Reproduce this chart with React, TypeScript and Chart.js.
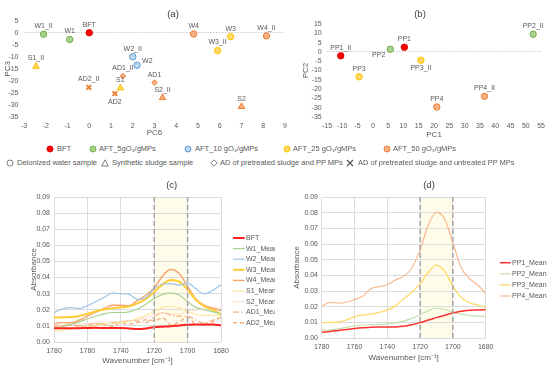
import React, { useEffect, useRef } from 'react';
import { Chart, registerables } from 'chart.js';
Chart.register(...registerables);

const FONT = '"Liberation Sans", Arial, sans-serif';
const TXT = '#595959';

// ---------- (a) PCA scores: PC6 vs PC3 ----------
const aLabels = ['BFT', 'W1_II', 'W1', 'W2_II', 'W2', 'W4', 'W3', 'W3_II', 'W4_II', 'S1_II', 'AD1_II', 'AD1', 'AD2_II', 'S1', 'AD2', 'S2_II', 'S2'];
const aPC6 = [0, -2.1, -0.9, 2.0, 2.2, 4.8, 6.5, 5.9, 8.15, -2.45, 1.55, 3.0, -0.02, 1.43, 1.18, 3.37, 7.0];
const aPC3 = [0, -0.6, -2.8, -10.0, -13.5, -0.5, -1.6, -7.4, -1.3, -14.0, -18.0, -20.7, -22.7, -23.0, -25.3, -27.0, -30.7];
const aDose = ['BFT', 'AFT5', 'AFT5', 'AFT10', 'AFT10', 'AFT50', 'AFT25', 'AFT25', 'AFT50', 'AFT25', 'AFT50', 'AFT50', 'AFT50', 'AFT25', 'AFT50', 'AFT50', 'AFT50'];
const aSample = ['water', 'water', 'water', 'water', 'water', 'water', 'water', 'water', 'water', 'sludge', 'ad', 'ad', 'adu', 'sludge', 'adu', 'sludge', 'sludge'];
const aLabelPos = ['above', 'above', 'above', 'above', 'right', 'above', 'above', 'above', 'above', 'above', 'above', 'above', 'above', 'above', 'below', 'above', 'above'];

// ---------- (b) PCA scores: PC1 vs PC2 ----------
const bLabels = ['PP2_II', 'PP1', 'PP2', 'PP1_II', 'PP3_II', 'PP3', 'PP4_II', 'PP4'];
const bPC1 = [52.4, 10.3, 5.7, -10.5, 15.7, -4.5, 36.5, 20.9];
const bPC2 = [9.5, 2.5, 1.4, -2.1, -4.5, -13.4, -23.9, -29.6];
const bDose = ['AFT5', 'BFT', 'AFT5', 'BFT', 'AFT25', 'AFT25', 'AFT50', 'AFT50'];
const bSample = ['water', 'water', 'water', 'water', 'water', 'water', 'water', 'water'];
const bLabelPos = ['above', 'above', 'belowleft', 'above', 'below', 'above', 'above', 'above'];

// ---------- (c), (d) FTIR spectra ----------
const waves = [1780, 1775, 1770, 1765, 1760, 1755, 1750, 1745, 1740, 1735, 1730, 1725, 1720, 1715, 1710, 1705, 1700, 1695, 1690, 1685, 1680];
const cNames = ['BFT', 'W1_Mean', 'W2_Mean', 'W3_Mean', 'W4_Mean', 'S1_Mean', 'S2_Mean', 'AD1_Mean', 'AD2_Mean'];
const cBFT = [0.0085, 0.0085, 0.0085, 0.0086, 0.0087, 0.0088, 0.0087, 0.0087, 0.0087, 0.0084, 0.008, 0.0084, 0.0092, 0.0095, 0.0098, 0.0103, 0.0107, 0.0108, 0.0108, 0.0108, 0.0104];
const cW1 = [0.0085, 0.0095, 0.011, 0.0125, 0.0143, 0.016, 0.0175, 0.0183, 0.0183, 0.0187, 0.0205, 0.0235, 0.027, 0.0295, 0.0303, 0.0292, 0.025, 0.0215, 0.02, 0.0188, 0.0175];
const cW2 = [0.0183, 0.0205, 0.0213, 0.0208, 0.0225, 0.025, 0.0278, 0.0303, 0.03, 0.0295, 0.0265, 0.0275, 0.033, 0.036, 0.0362, 0.0353, 0.0365, 0.033, 0.0298, 0.032, 0.0355];
const cW3 = [0.0152, 0.0153, 0.0155, 0.0162, 0.0175, 0.019, 0.0202, 0.021, 0.0215, 0.0222, 0.024, 0.0268, 0.031, 0.0358, 0.0385, 0.0375, 0.0325, 0.026, 0.0222, 0.02, 0.0172];
const cW4 = [0.0115, 0.012, 0.012, 0.0135, 0.016, 0.0185, 0.0208, 0.0228, 0.0228, 0.0225, 0.0258, 0.029, 0.0335, 0.041, 0.045, 0.0425, 0.0345, 0.0265, 0.0228, 0.021, 0.0195];
const cS1 = [0.0068, 0.0072, 0.0082, 0.009, 0.0095, 0.0102, 0.011, 0.0115, 0.012, 0.013, 0.0145, 0.0165, 0.019, 0.0215, 0.0222, 0.021, 0.019, 0.0172, 0.0165, 0.0165, 0.0165];
const cS2 = [0.0098, 0.0102, 0.0108, 0.0112, 0.0115, 0.012, 0.0125, 0.0125, 0.0128, 0.013, 0.0138, 0.0152, 0.0168, 0.0178, 0.0175, 0.0175, 0.019, 0.02, 0.021, 0.0215, 0.021];
const cAD1 = [0.0102, 0.0105, 0.011, 0.0102, 0.0108, 0.0115, 0.0112, 0.012, 0.0125, 0.0132, 0.013, 0.012, 0.016, 0.0182, 0.0168, 0.016, 0.016, 0.0135, 0.0118, 0.0135, 0.0148];
const cAD2 = [0.0092, 0.0098, 0.0105, 0.0098, 0.0095, 0.0112, 0.0105, 0.0098, 0.0118, 0.0112, 0.012, 0.0138, 0.0132, 0.015, 0.0105, 0.0125, 0.0155, 0.011, 0.0108, 0.0125, 0.0158];

const dNames = ['PP1_Mean', 'PP2_Mean', 'PP3_Mean', 'PP4_Mean'];
const dPP1 = [0.0036, 0.0042, 0.0048, 0.0054, 0.006, 0.0065, 0.0069, 0.007, 0.007, 0.0071, 0.0075, 0.0085, 0.0098, 0.0115, 0.013, 0.0145, 0.016, 0.0171, 0.0177, 0.0179, 0.018];
const dPP2 = [0.005, 0.0052, 0.0058, 0.0068, 0.0078, 0.0083, 0.0085, 0.0087, 0.009, 0.0096, 0.0108, 0.0125, 0.0148, 0.0175, 0.019, 0.0183, 0.0165, 0.0152, 0.0145, 0.014, 0.0137];
const dPP3 = [0.0098, 0.01, 0.0102, 0.0115, 0.0135, 0.0147, 0.0152, 0.0163, 0.0178, 0.0205, 0.025, 0.0292, 0.0345, 0.042, 0.0465, 0.0425, 0.033, 0.026, 0.0225, 0.021, 0.0195];
const dPP4 = [0.0202, 0.0228, 0.0222, 0.0228, 0.0245, 0.0266, 0.0315, 0.0328, 0.034, 0.037, 0.0395, 0.0447, 0.0564, 0.072, 0.0804, 0.076, 0.0606, 0.045, 0.038, 0.034, 0.0282];

const bandFrom = 1720;
const bandTo = 1700;

// ---------- styles ----------
const doseFill: Record<string, string> = { BFT: '#ff0000', AFT5: '#a9d18e', AFT10: '#bdd7ee', AFT25: '#ffd966', AFT50: '#f4b183' };
const doseLine: Record<string, string> = { BFT: '#e00000', AFT5: '#70ad47', AFT10: '#5b9bd5', AFT25: '#ffc000', AFT50: '#ed7d31' };
const sampleStyle: Record<string, string> = { water: 'circle', sludge: 'triangle', ad: 'rectRot', adu: 'crossRot' };
const sampleRadius: Record<string, number> = { water: 3.2, sludge: 3.8, ad: 2.8, adu: 3.2 };

const cStyles = [
  { c: '#ff2020', w: 2, d: [] as number[] },
  { c: '#a9d18e', w: 1.2, d: [] },
  { c: '#9dc3e6', w: 1.2, d: [] },
  { c: '#ffcc33', w: 2, d: [] },
  { c: '#f6a46c', w: 1.4, d: [] },
  { c: '#ffe699', w: 1.2, d: [] },
  { c: '#f8cbad', w: 1.2, d: [1.2, 1.5] },
  { c: '#f4b183', w: 1.2, d: [6, 2, 1.5, 2] },
  { c: '#f4b183', w: 1.4, d: [4, 3] },
];
const dStyles = [
  { c: '#ff3030', w: 1.5, d: [] as number[] },
  { c: '#c5e0b4', w: 1.2, d: [] },
  { c: '#ffd966', w: 1.3, d: [] },
  { c: '#f8b990', w: 1.2, d: [] },
];

type Layout = {
  padTop: number; padRight: number; yWidth: number; xHeight: number;
  yTickPad: number; yTitlePad: number; xTickPad: number; xTitlePad: number;
};

function pointLabelPlugin(labels: string[], pos: string[]) {
  return {
    id: 'ptlabels',
    afterDatasetsDraw(chart: any) {
      const ctx = chart.ctx;
      const meta = chart.getDatasetMeta(0);
      ctx.save();
      ctx.font = `7px ${FONT}`;
      ctx.fillStyle = TXT;
      ctx.textBaseline = 'middle';
      meta.data.forEach((el: any, i: number) => {
        const x = el.x, y = el.y;
        let dx = 0, dy = -8, align: CanvasTextAlign = 'center';
        if (pos[i] === 'below') dy = 8;
        if (pos[i] === 'right') { dx = 5; dy = -4; align = 'left'; }
        if (pos[i] === 'belowleft') { dx = -5; dy = 6; align = 'right'; }
        ctx.textAlign = align;
        ctx.fillText(labels[i], x + dx, y + dy);
      });
      ctx.restore();
    },
  };
}

function scatterConfig(xs: number[], ys: number[], labels: string[], doses: string[], samples: string[], pos: string[],
  xr: [number, number, number], yr: [number, number, number], xTitle: string, yTitle: string, L: Layout): any {
  return {
    type: 'scatter',
    data: {
      datasets: [{
        data: xs.map((x, i) => ({ x, y: ys[i] })),
        pointStyle: samples.map((s) => sampleStyle[s]),
        pointRadius: samples.map((s) => sampleRadius[s]),
        backgroundColor: doses.map((d) => doseFill[d]),
        borderColor: doses.map((d) => doseLine[d]),
        borderWidth: samples.map((s) => (s === 'adu' ? 2 : 1)),
      }],
    },
    options: {
      responsive: false,
      animation: false,
      layout: { padding: { top: L.padTop, right: L.padRight, left: 0, bottom: 0 } },
      plugins: { legend: { display: false }, tooltip: { enabled: false } },
      scales: {
        x: {
          type: 'linear', min: xr[0], max: xr[1],
          ticks: { stepSize: xr[2], autoSkip: false, maxRotation: 0, padding: L.xTickPad, color: TXT, font: { size: 7, family: FONT } },
          grid: { display: false, drawTicks: false },
          border: { display: false },
          title: { display: true, text: xTitle, color: TXT, padding: { top: 0, bottom: L.xTitlePad }, font: { size: 8, family: FONT } },
          afterFit: (s: any) => { s.height = L.xHeight; },
        },
        y: {
          type: 'linear', min: yr[0], max: yr[1],
          ticks: { stepSize: yr[2], autoSkip: false, padding: L.yTickPad, color: TXT, font: { size: 7, family: FONT } },
          grid: {
            drawTicks: false,
            color: (c: any) => (c.tick && c.tick.value === 0 ? '#c8c8c8' : 'rgba(0,0,0,0)'),
          },
          border: { display: false, dash: [1.5, 1.5] },
          title: { display: true, text: yTitle, color: TXT, padding: { top: L.yTitlePad, bottom: 0 }, font: { size: 8, family: FONT } },
          afterFit: (s: any) => { s.width = L.yWidth; },
        },
      },
    },
    plugins: [pointLabelPlugin(labels, pos)],
  };
}

function bandPlugin() {
  return {
    id: 'band',
    beforeDraw(chart: any) {
      const { ctx, chartArea: a, scales } = chart;
      const x1 = scales.x.getPixelForValue(bandFrom);
      const x2 = scales.x.getPixelForValue(bandTo);
      ctx.save();
      ctx.fillStyle = '#fffcea';
      ctx.fillRect(Math.min(x1, x2), a.top, Math.abs(x2 - x1), a.bottom - a.top);
      ctx.restore();
    },
    afterDatasetsDraw(chart: any) {
      const { ctx, chartArea: a, scales } = chart;
      ctx.save();
      ctx.strokeStyle = '#a6a6a6';
      ctx.lineWidth = 1.5;
      ctx.setLineDash([5, 3]);
      [bandFrom, bandTo].forEach((v) => {
        const x = scales.x.getPixelForValue(v);
        ctx.beginPath();
        ctx.moveTo(x, a.top);
        ctx.lineTo(x, a.bottom);
        ctx.stroke();
      });
      ctx.restore();
    },
  };
}

function lineLegendPlugin(x0: number, x1: number, tx: number, y0: number, dy: number) {
  return {
    id: 'lleg',
    afterDraw(chart: any) {
      const ctx = chart.ctx;
      ctx.save();
      ctx.font = `7px ${FONT}`;
      ctx.textBaseline = 'middle';
      ctx.textAlign = 'left';
      chart.data.datasets.forEach((ds: any, i: number) => {
        const y = y0 + i * dy;
        ctx.strokeStyle = ds.borderColor;
        ctx.lineWidth = ds.borderWidth;
        ctx.setLineDash(ds.borderDash || []);
        ctx.beginPath();
        ctx.moveTo(x0, y);
        ctx.lineTo(x1, y);
        ctx.stroke();
        ctx.fillStyle = TXT;
        ctx.fillText(ds.label, tx, y);
      });
      ctx.restore();
    },
  };
}

function lineConfig(names: string[], series: number[][], styles: { c: string; w: number; d: number[] }[], L: Layout, leg: number[]): any {
  return {
    type: 'line',
    data: {
      datasets: series.map((vals, i) => ({
        label: names[i],
        data: waves.map((w, j) => ({ x: w, y: vals[j] })),
        borderColor: styles[i].c,
        borderWidth: styles[i].w,
        borderDash: styles[i].d,
        pointRadius: 0,
        fill: false,
        cubicInterpolationMode: 'monotone',
      })),
    },
    options: {
      responsive: false,
      animation: false,
      layout: { padding: { top: L.padTop, right: L.padRight, left: 0, bottom: 0 } },
      plugins: { legend: { display: false }, tooltip: { enabled: false } },
      scales: {
        x: {
          type: 'linear', reverse: true, min: 1680, max: 1780,
          ticks: { stepSize: 20, autoSkip: false, maxRotation: 0, padding: L.xTickPad, color: TXT, font: { size: 7, family: FONT }, callback: (v: any) => String(v) },
          grid: { color: '#dcdcdc', drawTicks: false },
          border: { display: false },
          title: { display: true, text: 'Wavenumber [cm⁻¹]', color: TXT, padding: { top: 0, bottom: L.xTitlePad }, font: { size: 8, family: FONT } },
          afterFit: (s: any) => { s.height = L.xHeight; },
        },
        y: {
          type: 'linear', min: 0, max: 0.09,
          ticks: { stepSize: 0.01, autoSkip: false, padding: L.yTickPad, color: TXT, font: { size: 7, family: FONT }, callback: (v: any) => Number(v).toFixed(2) },
          grid: { color: '#dcdcdc', drawTicks: false },
          border: { display: false },
          title: { display: true, text: 'Absorbance', color: TXT, padding: { top: L.yTitlePad, bottom: 0 }, font: { size: 8, family: FONT } },
          afterFit: (s: any) => { s.width = L.yWidth; },
        },
      },
    },
    plugins: [bandPlugin(), lineLegendPlugin(leg[0], leg[1], leg[2], leg[3], leg[4])],
  };
}

function ChartCanvas({ config, width, height }: { config: () => any; width: number; height: number }) {
  const ref = useRef<HTMLCanvasElement>(null);
  useEffect(() => {
    if (!ref.current) return;
    const ch = new Chart(ref.current, config());
    return () => ch.destroy();
  }, []);
  return <canvas ref={ref} width={width} height={height} style={{ display: 'block', width, height }} />;
}

const abs = (l: number, t: number, w: number, h: number, extra: any = {}): React.CSSProperties => ({
  position: 'absolute', left: l, top: t, width: w, height: h, ...extra,
});

function Marker({ kind, fill, stroke }: { kind: string; fill: string; stroke: string }) {
  const s = 8;
  let el: any = null;
  if (kind === 'circle') el = <circle cx={4} cy={4} r={3} fill={fill} stroke={stroke} strokeWidth={1} />;
  if (kind === 'triangle') el = <polygon points="4,0.8 7.3,7 0.7,7" fill={fill} stroke={stroke} strokeWidth={1} />;
  if (kind === 'diamond') el = <polygon points="4,0.8 7.2,4 4,7.2 0.8,4" fill={fill} stroke={stroke} strokeWidth={1} />;
  if (kind === 'x') el = <g stroke={stroke} strokeWidth={1.3}><line x1={1} y1={1} x2={7} y2={7} /><line x1={7} y1={1} x2={1} y2={7} /></g>;
  return <svg width={s} height={s} style={{ position: 'absolute', left: -4, top: -4 }}>{el}</svg>;
}

function LegendItem({ x, y, textX, kind, fill, stroke, text }: any) {
  return (
    <>
      <div style={{ position: 'absolute', left: x, top: y, width: 0, height: 0 }}>
        <Marker kind={kind} fill={fill} stroke={stroke} />
      </div>
      <div style={{ position: 'absolute', left: textX, top: y - 5, fontSize: 7.5, lineHeight: '10px', color: TXT, fontFamily: FONT, whiteSpace: 'nowrap' }}>{text}</div>
    </>
  );
}

const titleStyle = (cx: number, cy: number): React.CSSProperties => ({
  position: 'absolute', left: cx - 20, top: cy - 6, width: 40, textAlign: 'center', fontSize: 9.5, lineHeight: '12px', color: '#404040', fontFamily: FONT,
});

export default function App() {
  const LA: Layout = { padTop: 20.7, padRight: 15, yWidth: 24, xHeight: 23, yTickPad: 5.5, yTitlePad: 2.5, xTickPad: 5, xTitlePad: 2.5 };
  const LB: Layout = { padTop: 24, padRight: 8, yWidth: 37, xHeight: 23, yTickPad: 5.3, yTitlePad: 10.5, xTickPad: 5, xTitlePad: 0.5 };
  const LC: Layout = { padTop: 17, padRight: 79, yWidth: 54, xHeight: 24, yTickPad: 4, yTitlePad: 28.5, xTickPad: 4.5, xTitlePad: 0 };
  const LD: Layout = { padTop: 17, padRight: 64.3, yWidth: 46.7, xHeight: 28, yTickPad: 3.7, yTitlePad: 17.2, xTickPad: 5, xTitlePad: 3.5 };

  return (
    <div style={{ position: 'fixed', left: 0, top: 0, width: 550, height: 366, background: '#fff', overflow: 'hidden' }}>
      <div style={abs(0, 0, 300, 140)}>
        <ChartCanvas width={300} height={140} config={() => scatterConfig(aPC6, aPC3, aLabels, aDose, aSample, aLabelPos, [-3, 9, 1], [-35, 5, 5], 'PC6', 'PC3', LA)} />
      </div>
      <div style={abs(290, 0, 260, 140, { background: '#fff' })}>
        <ChartCanvas width={260} height={140} config={() => scatterConfig(bPC1, bPC2, bLabels, bDose, bSample, bLabelPos, [-15, 55, 5], [-35, 15, 5], 'PC1', 'PC2', LB)} />
      </div>
      <div style={titleStyle(173, 13.5)}>(a)</div>
      <div style={titleStyle(420, 13.5)}>(b)</div>

      <LegendItem x={50} y={149} textX={57} kind="circle" fill={doseFill.BFT} stroke={doseLine.BFT} text="BFT" />
      <LegendItem x={93} y={149} textX={99} kind="circle" fill={doseFill.AFT5} stroke={doseLine.AFT5} text="AFT_5gO₃/gMPs" />
      <LegendItem x={188} y={149} textX={195} kind="circle" fill={doseFill.AFT10} stroke={doseLine.AFT10} text="AFT_10 gO₃/gMPs" />
      <LegendItem x={287} y={149} textX={293} kind="circle" fill={doseFill.AFT25} stroke={doseLine.AFT25} text="AFT_25 gO₃/gMPs" />
      <LegendItem x={387} y={149} textX={393} kind="circle" fill={doseFill.AFT50} stroke={doseLine.AFT50} text="AFT_50 gO₃/gMPs" />

      <LegendItem x={10} y={163} textX={17} kind="circle" fill="#fff" stroke="#7f7f7f" text="Deionized water sample" />
      <LegendItem x={105} y={163} textX={112} kind="triangle" fill="#fff" stroke="#7f7f7f" text="Synthetic sludge sample" />
      <LegendItem x={214} y={163} textX={220} kind="diamond" fill="#fff" stroke="#7f7f7f" text="AD of pretreated sludge and PP MPs" />
      <LegendItem x={350} y={163} textX={358} kind="x" fill="#fff" stroke="#595959" text="AD of pretreated sludge and untreated PP MPs" />

      <div style={abs(0, 180, 275, 186, { overflow: 'hidden' })}>
        <ChartCanvas width={300} height={186} config={() => lineConfig(cNames, [cBFT, cW1, cW2, cW3, cW4, cS1, cS2, cAD1, cAD2], cStyles, LC, [233, 244.7, 246, 58, 10.6])} />
      </div>
      <div style={abs(275, 180, 275, 186, { background: '#fff' })}>
        <ChartCanvas width={275} height={186} config={() => lineConfig(dNames, [dPP1, dPP2, dPP3, dPP4], dStyles, LD, [225, 235.7, 237, 82.7, 11.1])} />
      </div>
      <div style={titleStyle(171.7, 184.5)}>(c)</div>
      <div style={titleStyle(429, 184.5)}>(d)</div>
    </div>
  );
}
